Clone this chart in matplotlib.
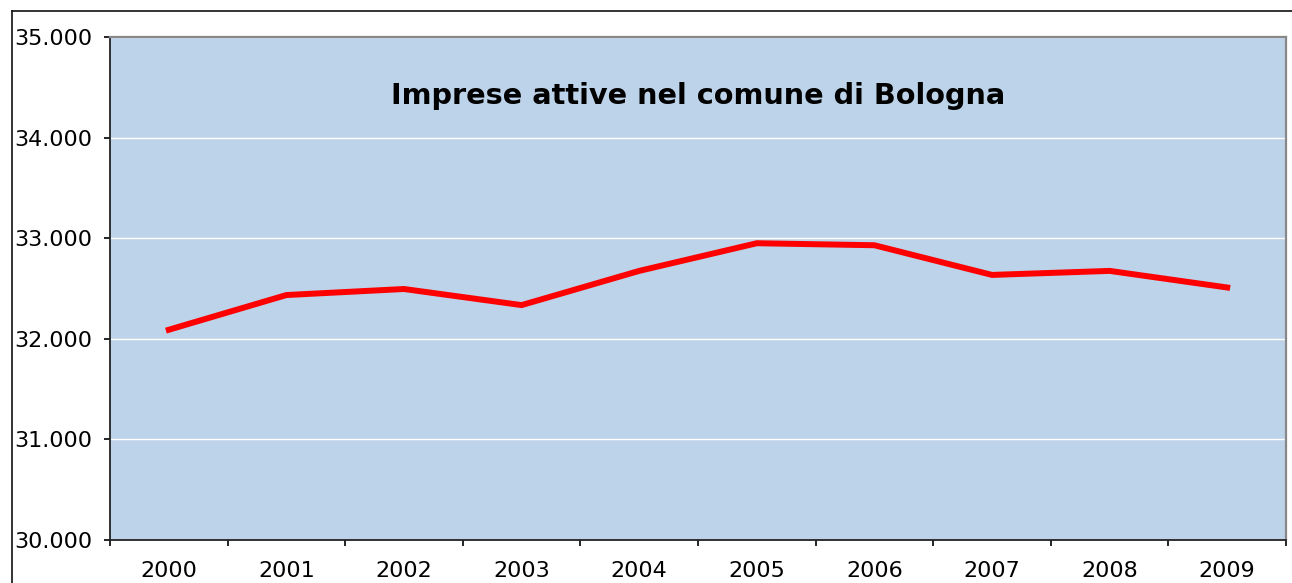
import numpy as np
import matplotlib.pyplot as plt
from matplotlib.ticker import FuncFormatter, FixedLocator
from matplotlib.lines import Line2D

# data
anni = ['2000', '2001', '2002', '2003', '2004', '2005', '2006', '2007', '2008', '2009']
imprese = [32090, 32435, 32495, 32335, 32675, 32950, 32930, 32635, 32675, 32510]
y_ticks = [30000, 31000, 32000, 33000, 34000, 35000]

fig = plt.figure(figsize=(12.92, 5.83), dpi=100)
ax = fig.add_axes([110 / 1292, 1 - 540 / 583, 1176 / 1292, 503 / 583])

x = np.arange(len(anni))
ax.set_facecolor('#BDD3E9')
ax.plot(x, imprese, color='#FF0000', lw=4.3, solid_joinstyle='miter', zorder=3)

ax.set_xlim(-0.5, len(anni) - 0.5)
ax.set_ylim(y_ticks[0], y_ticks[-1])
ax.set_yticks(y_ticks)
ax.yaxis.set_major_formatter(FuncFormatter(lambda v, p: f'{int(v):,}'.replace(',', '.')))
ax.grid(axis='y', color='white', lw=1)
ax.set_axisbelow(True)

ax.set_xticks(x)
ax.set_xticklabels(anni)
ax.xaxis.set_minor_locator(FixedLocator(np.arange(-0.5, len(anni), 1)))
ax.tick_params(axis='x', which='major', length=0, pad=15, labelsize=16)
ax.tick_params(axis='x', which='minor', length=4.5, width=1.2, direction='out')
ax.tick_params(axis='y', length=4.5, width=1.2, pad=8, labelsize=16)

for side in ['top', 'right']:
    ax.spines[side].set_color('#888888')
    ax.spines[side].set_linewidth(1.6)
for side in ['left', 'bottom']:
    ax.spines[side].set_color('#222222')
    ax.spines[side].set_linewidth(1.3)

ax.text(0.5, 0.883, 'Imprese attive nel comune di Bologna', transform=ax.transAxes,
        ha='center', va='center', fontsize=20.7, fontweight='bold')

# outer chart frame (left and top edges visible)
fig.add_artist(Line2D([11.5 / 1292, 11.5 / 1292], [0, 1 - 10.5 / 583], color='#111111', lw=1.2,
                      transform=fig.transFigure))
fig.add_artist(Line2D([11.5 / 1292, 1], [1 - 10.5 / 583, 1 - 10.5 / 583], color='#111111', lw=1.2,
                      transform=fig.transFigure))

fig.savefig('out.png', dpi=100)
